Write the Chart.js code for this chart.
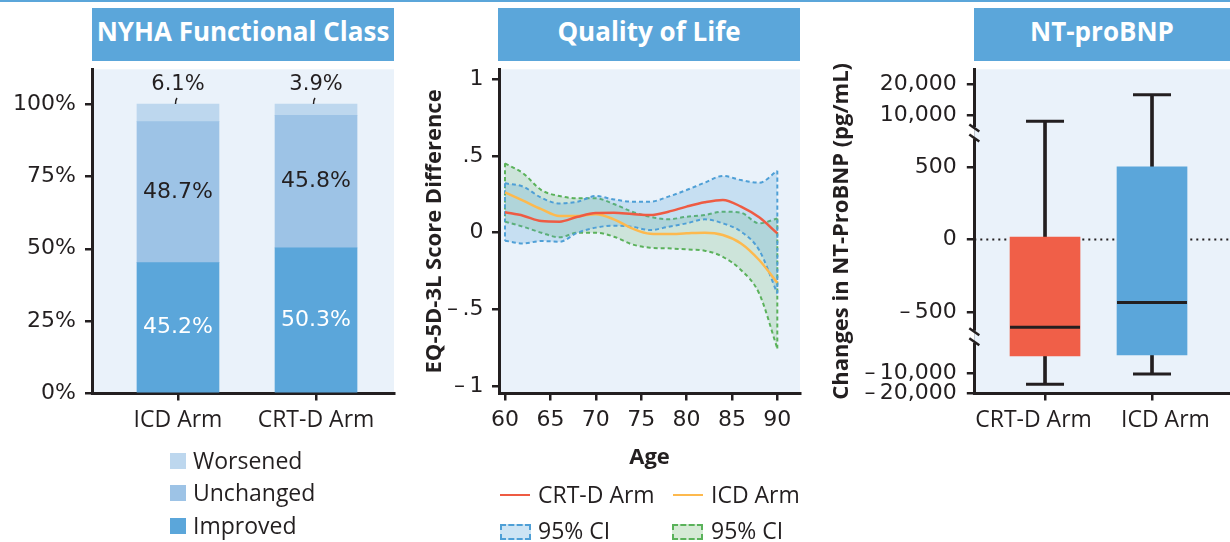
<!DOCTYPE html>
<html>
<head>
<meta charset="utf-8">
<script src="https://cdn.jsdelivr.net/npm/chart.js@4.4.0/dist/chart.umd.min.js"></script>
<style>
  body { margin:0; width:1230px; height:542px; position:relative; background:#fff; overflow:hidden;
         font-family:'Open Sans', sans-serif; color:#231F20; }
  .topline { position:absolute; left:0; top:0; width:1230px; height:2px; background:#5BA6DA; }
  .ttl { position:absolute; top:7.5px; height:53px; background:#5BA6DA; color:#fff; font-weight:700;
         font-size:26px; line-height:47px; text-align:center; white-space:nowrap; }
  canvas { position:absolute; top:0; }
  .txt { position:absolute; font-size:23px; line-height:30px; white-space:nowrap; }
  .sw { position:absolute; }
</style>
</head>
<body>
<div class="topline"></div>
<div class="ttl" style="left:92px;width:302px">NYHA Functional Class</div>
<div class="ttl" style="left:498px;width:302px">Quality of Life</div>
<div class="ttl" style="left:974px;width:256px">NT-proBNP</div>

<canvas id="nyha" width="410" height="542" style="left:0"></canvas>
<canvas id="qol" width="410" height="542" style="left:410px"></canvas>
<canvas id="bnp" width="410" height="542" style="left:820px"></canvas>

<!-- NYHA legend -->
<div class="sw" style="left:170px;top:452.5px;width:16px;height:16px;background:#BDD7EE"></div>
<div class="txt" style="left:193px;top:444.8px">Worsened</div>
<div class="sw" style="left:170px;top:485px;width:16px;height:16px;background:#9DC3E6"></div>
<div class="txt" style="left:193px;top:477.3px">Unchanged</div>
<div class="sw" style="left:170px;top:517.5px;width:16px;height:16px;background:#5BA6DA"></div>
<div class="txt" style="left:193px;top:509.8px">Improved</div>

<!-- QoL legend -->
<div class="sw" style="left:500px;top:493.7px;width:30px;height:2.5px;background:#EE5B43"></div>
<div class="txt" style="left:538px;top:479.3px">CRT-D Arm</div>
<div class="sw" style="left:673px;top:493.7px;width:30px;height:2.5px;background:#FDB94E"></div>
<div class="txt" style="left:711px;top:479.3px">ICD Arm</div>
<div class="sw" style="left:500px;top:524px;width:27px;height:12px;border:2px dashed #4E9FD6;background:rgba(91,166,218,0.3)"></div>
<div class="txt" style="left:538px;top:515.3px">95% CI</div>
<div class="sw" style="left:672px;top:524px;width:27px;height:12px;border:2px dashed #5AB25A;background:rgba(104,178,104,0.28)"></div>
<div class="txt" style="left:711px;top:515.3px">95% CI</div>

<script>
// ---------- data ----------
const nyhaArms = ['ICD Arm', 'CRT-D Arm'];
const nyhaImproved = [45.2, 50.3];
const nyhaUnchanged = [48.7, 45.8];
const nyhaWorsened = [6.1, 3.9];
const nyhaTicks = [0, 25, 50, 75, 100];

const qolAge = [60, 62, 64, 66, 68, 70, 72, 74, 76, 78, 80, 82, 84, 86, 88, 90];
const crtdLine = [0.133, 0.111, 0.076, 0.072, 0.104, 0.128, 0.130, 0.122, 0.115, 0.137, 0.170, 0.198, 0.213, 0.170, 0.100, -0.004];
const icdLine = [0.263, 0.209, 0.154, 0.109, 0.109, 0.120, 0.087, 0.028, -0.007, -0.009, -0.004, 0.000, -0.015, -0.070, -0.178, -0.326];
const crtdCiUpper = [0.322, 0.300, 0.228, 0.191, 0.202, 0.239, 0.217, 0.202, 0.202, 0.235, 0.278, 0.326, 0.370, 0.343, 0.326, 0.404];
const crtdCiLower = [-0.052, -0.070, -0.054, -0.059, 0.000, 0.033, 0.046, 0.039, 0.017, 0.039, 0.061, 0.087, 0.061, 0.007, -0.113, -0.396];
const icdCiUpper = [0.452, 0.387, 0.278, 0.239, 0.224, 0.224, 0.187, 0.137, 0.104, 0.087, 0.104, 0.115, 0.137, 0.130, 0.061, 0.093];
const icdCiLower = [0.072, 0.039, 0.000, -0.030, 0.000, 0.000, -0.026, -0.076, -0.098, -0.102, -0.109, -0.117, -0.157, -0.243, -0.396, -0.754];
const ageTicks = [60, 65, 70, 75, 80, 85, 90];
const qolTicks = [-1, -0.5, 0, 0.5, 1];
const qolTickLabels = ['\u2013\u20091', '\u2013\u2009.5', '0', '.5', '1'];

const bnpArms = ['CRT-D Arm', 'ICD Arm'];
const bnpMin = [-15500, -10500];
const bnpQ1 = [-1750, -1260];
const bnpMedian = [-605, -435];
const bnpQ3 = [15, 500];
const bnpMax = [8000, 16500];
const bnpTicks = [-20000, -10000, -500, 0, 500, 10000, 20000];
const bnpTickLabels = ['\u2013\u200920,000', '\u2013\u200910,000', '\u2013\u2009500', '0', '500', '10,000', '20,000'];

// ---------- shared styles ----------
const INK = '#231F20';
const PLOT_BG = '#EAF2FA';
const NUM_FONT = { family: 'DejaVu Sans', size: 22 };
const WORD_FONT = { family: 'Open Sans', size: 23 };
const TITLE_FONT = { family: 'Open Sans', size: 22, weight: 'bold' };

Chart.defaults.color = INK;
Chart.defaults.animation = false;
Chart.defaults.plugins.legend.display = false;
Chart.defaults.plugins.tooltip.enabled = false;

const axisGrid = { drawOnChartArea: false, drawTicks: true, tickLength: 7, lineWidth: 2.5, color: INK, offset: false };
const axisBorder = { display: true, color: INK, width: 3 };
// fixed-height bottom axis, no side padding so the plot keeps its full width
const fitX = s => { s.height = 148.5; s.paddingLeft = 0; s.paddingRight = 0; };

const plotBg = {
  id: 'plotBg',
  beforeDraw(chart) {
    const a = chart.chartArea;
    chart.ctx.save();
    chart.ctx.fillStyle = PLOT_BG;
    chart.ctx.fillRect(a.left, a.top, a.right - a.left, a.bottom - a.top);
    chart.ctx.restore();
  }
};

// ---------- NYHA stacked bars ----------
const nyhaLabels = {
  id: 'nyhaLabels',
  afterDatasetsDraw(chart) {
    const ctx = chart.ctx;
    ctx.save();
    ctx.textAlign = 'center';
    ctx.textBaseline = 'middle';
    chart.data.datasets.forEach((ds, i) => {
      chart.getDatasetMeta(i).data.forEach((bar, j) => {
        const txt = ds.data[j].y.toFixed(1) + '%';
        if (ds.label === 'Worsened') {
          ctx.font = '21px "DejaVu Sans"';
          ctx.fillStyle = INK;
          ctx.fillText(txt, bar.x, bar.y - 19);
          ctx.strokeStyle = INK;
          ctx.lineWidth = 1.5;
          ctx.beginPath();
          ctx.moveTo(bar.x - 2.5, bar.y);
          ctx.quadraticCurveTo(bar.x - 2.5, bar.y - 4, bar.x - 1, bar.y - 6);
          ctx.stroke();
        } else {
          ctx.font = '22px "DejaVu Sans"';
          ctx.fillStyle = ds.label === 'Improved' ? '#fff' : INK;
          ctx.fillText(txt, bar.x, (bar.y + bar.base) / 2);
        }
      });
    });
    ctx.restore();
  }
};

const toXY = arr => arr.map((v, i) => ({ x: i, y: v }));

new Chart(document.getElementById('nyha'), {
  type: 'bar',
  data: {
    datasets: [
      { label: 'Improved', data: toXY(nyhaImproved), backgroundColor: '#5BA6DA' },
      { label: 'Unchanged', data: toXY(nyhaUnchanged), backgroundColor: '#9DC3E6' },
      { label: 'Worsened', data: toXY(nyhaWorsened), backgroundColor: '#BDD7EE' }
    ]
  },
  options: {
    responsive: false,
    devicePixelRatio: 1,
    layout: { autoPadding: false, padding: { top: 69.3, right: 16, bottom: 0, left: 0 } },
    datasets: { bar: { barThickness: 82, borderWidth: 0 } },
    scales: {
      x: {
        type: 'linear', stacked: true, offset: false, min: -0.623, max: 1.565,
        grid: axisGrid, border: axisBorder,
        afterBuildTicks: s => { s.ticks = nyhaArms.map((a, i) => ({ value: i })); },
        afterFit: fitX,
        ticks: { autoSkip: false, maxRotation: 0, padding: 6, font: WORD_FONT,
                 callback: v => nyhaArms[v] }
      },
      y: {
        stacked: true, min: 0, max: 112,
        grid: axisGrid, border: axisBorder,
        afterBuildTicks: s => { s.ticks = nyhaTicks.map(v => ({ value: v })); },
        afterFit: s => { s.width = 92; },
        ticks: { autoSkip: false, padding: 9, font: NUM_FONT, callback: v => v + '%' }
      }
    }
  },
  plugins: [plotBg, nyhaLabels]
});

// ---------- Quality of life curves ----------
const ageXY = arr => arr.map((v, i) => ({ x: qolAge[i], y: v }));
const edge = (up, lo, k) => [{ x: qolAge[k], y: up[k] }, { x: qolAge[k], y: lo[k] }];
const last = qolAge.length - 1;
const BLUE_DASH = '#4E9FD6', GREEN_DASH = '#5AB25A';
const dashed = (data, color, fill, bg) => ({
  data, borderColor: color, borderWidth: 2, borderDash: [4, 3], pointRadius: 0,
  cubicInterpolationMode: 'monotone', fill: fill, backgroundColor: bg
});

new Chart(document.getElementById('qol'), {
  type: 'line',
  data: {
    datasets: [
      { label: 'CRT-D Arm', data: ageXY(crtdLine), borderColor: '#EE5B43', borderWidth: 2.5,
        pointRadius: 0, cubicInterpolationMode: 'monotone', fill: false },
      { label: 'ICD Arm', data: ageXY(icdLine), borderColor: '#FDB94E', borderWidth: 2.5,
        pointRadius: 0, cubicInterpolationMode: 'monotone', fill: false },
      dashed(ageXY(crtdCiUpper), BLUE_DASH, '+1', 'rgba(91,166,218,0.25)'),
      dashed(ageXY(crtdCiLower), BLUE_DASH, false),
      dashed(ageXY(icdCiUpper), GREEN_DASH, '+1', 'rgba(104,178,104,0.22)'),
      dashed(ageXY(icdCiLower), GREEN_DASH, false),
      dashed(edge(crtdCiUpper, crtdCiLower, 0), BLUE_DASH, false),
      dashed(edge(crtdCiUpper, crtdCiLower, last), BLUE_DASH, false),
      dashed(edge(icdCiUpper, icdCiLower, 0), GREEN_DASH, false),
      dashed(edge(icdCiUpper, icdCiLower, last), GREEN_DASH, false)
    ]
  },
  options: {
    responsive: false,
    devicePixelRatio: 1,
    layout: { autoPadding: false, padding: { top: 69.3, right: 20, bottom: 0, left: 0 } },
    scales: {
      x: {
        type: 'linear', min: 59.34, max: 92.5, offset: false,
        grid: axisGrid, border: axisBorder,
        afterBuildTicks: s => { s.ticks = ageTicks.map(v => ({ value: v })); },
        afterFit: fitX,
        ticks: { autoSkip: false, maxRotation: 0, padding: 7, font: NUM_FONT },
        title: { display: true, text: 'Age', font: TITLE_FONT, padding: { top: 0, bottom: 70.8 } }
      },
      y: {
        min: -1.048, max: 1.065,
        grid: axisGrid, border: axisBorder,
        afterBuildTicks: s => { s.ticks = qolTicks.map(v => ({ value: v })); },
        afterFit: s => { s.width = 89; },
        ticks: { autoSkip: false, padding: 8.5, font: NUM_FONT,
                 callback: (v, i) => qolTickLabels[i] },
        title: { display: true, text: 'EQ-5D-3L Score Difference', font: TITLE_FONT,
                 padding: { top: 11.8, bottom: 0 } }
      }
    }
  },
  plugins: [plotBg]
});

// ---------- NT-proBNP box plot on a broken axis ----------
// piecewise map: linear core around zero, compressed tails beyond the breaks
function brk(v) {
  if (v > 700) return 857 + (v - 10000) * 0.0214;
  if (v < -700) return -920 + (v + 10000) * 0.0142;
  return v;
}
const BNP_BREAKS = [733, -671];
const BNP_X = [-0.661, 1.729];
// the category labels sit a little apart from their tick marks in the original
const bnpLabelPad = [s => s + '\u2003', s => '\u2003\u2009' + s];

const axisBreaks = {
  id: 'axisBreaks',
  afterDraw(chart) {
    const ctx = chart.ctx, y = chart.scales.y, left = chart.chartArea.left;
    ctx.save();
    BNP_BREAKS.forEach(u => {
      const py = y.getPixelForValue(u);
      ctx.fillStyle = '#fff';
      ctx.fillRect(left - 2, py - 6, 2, 12);
      ctx.fillStyle = PLOT_BG;
      ctx.fillRect(left, py - 6, 2, 12);
      ctx.strokeStyle = INK;
      ctx.lineWidth = 2.5;
      [-5, 5].forEach(d => {
        ctx.beginPath();
        ctx.moveTo(left - 5, py + d - 3.5);
        ctx.lineTo(left + 5, py + d + 3.5);
        ctx.stroke();
      });
    });
    ctx.restore();
  }
};

new Chart(document.getElementById('bnp'), {
  type: 'bar',
  data: {
    datasets: [
      { type: 'line', order: 0, data: bnpMedian.map((v, i) => ({ x: i, y: brk(v) })),
        showLine: false, pointStyle: 'line', pointRadius: 35, pointBorderWidth: 3, pointBorderColor: INK },
      { type: 'line', order: 0,
        data: bnpMin.map((v, i) => ({ x: i, y: brk(v) })).concat(bnpMax.map((v, i) => ({ x: i, y: brk(v) }))),
        showLine: false, pointStyle: 'line', pointRadius: 19, pointBorderWidth: 3, pointBorderColor: INK },
      { order: 1, data: bnpQ1.map((q, i) => ({ x: i, y: [brk(q), brk(bnpQ3[i])] })),
        backgroundColor: ['#F05F48', '#5BA6DA'], barThickness: 70, grouped: false },
      { order: 2, data: bnpMin.map((m, i) => ({ x: i, y: [brk(m), brk(bnpMax[i])] })),
        backgroundColor: INK, barThickness: 3, grouped: false },
      { type: 'line', order: 3, data: [{ x: BNP_X[0], y: 0 }, { x: BNP_X[1], y: 0 }],
        borderColor: INK, borderWidth: 2, borderDash: [2, 4], pointRadius: 0, fill: false }
    ]
  },
  options: {
    responsive: false,
    devicePixelRatio: 1,
    layout: { autoPadding: false, padding: { top: 69.3, right: 0, bottom: 0, left: 0 } },
    scales: {
      x: {
        type: 'linear', min: BNP_X[0], max: BNP_X[1], offset: false,
        grid: axisGrid, border: axisBorder,
        afterBuildTicks: s => { s.ticks = bnpArms.map((a, i) => ({ value: i })); },
        afterFit: fitX,
        ticks: { autoSkip: false, maxRotation: 0, padding: 6, font: WORD_FONT,
                 callback: v => bnpLabelPad[v](bnpArms[v]) }
      },
      y: {
        min: -1062, max: 1172,
        grid: Object.assign({}, axisGrid, { tickLength: 7.5 }), border: axisBorder,
        afterBuildTicks: s => { s.ticks = bnpTicks.map(v => ({ value: brk(v) })); },
        afterFit: s => { s.width = 154.3; },
        ticks: { autoSkip: false, padding: 10, font: NUM_FONT,
                 callback: (v, i) => bnpTickLabels[i] },
        title: { display: true, text: 'Changes in NT-ProBNP (pg/mL)', font: TITLE_FONT,
                 padding: { top: 8.5, bottom: 0 } }
      }
    }
  },
  plugins: [plotBg, axisBreaks]
});
</script>
</body>
</html>
